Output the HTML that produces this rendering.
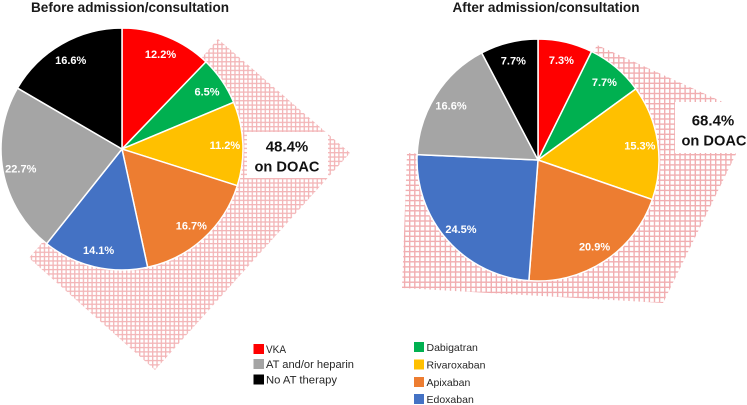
<!DOCTYPE html>
<html lang="en">
<head>
<meta charset="utf-8">
<title>Anticoagulant therapy before and after admission</title>
<style>
html,body{margin:0;padding:0;background:#fff;width:747px;height:405px;overflow:hidden}
svg{display:block;font-family:"Liberation Sans",Arial,sans-serif;filter:blur(0.35px)}
</style>
</head>
<body>
<svg id="chart" width="747" height="405" viewBox="0 0 747 405" xmlns="http://www.w3.org/2000/svg">
  <defs>
    <pattern id="hatch-left" width="4.33" height="4.33" patternUnits="userSpaceOnUse" x="0.5" y="0.5">
      <rect width="4.33" height="4.33" fill="#fff"/>
      <rect width="1.3" height="4.33" fill="#f3b5b7"/>
      <rect width="4.33" height="1.3" fill="#f3b5b7"/>
    </pattern>
    <pattern id="hatch-right" width="5.1" height="5.1" patternUnits="userSpaceOnUse" x="1" y="1">
      <rect width="5.1" height="5.1" fill="#fff"/>
      <rect width="1.4" height="5.1" fill="#f1aeb1"/>
      <rect width="5.1" height="1.4" fill="#f1aeb1"/>
    </pattern>
  </defs>

  <polygon points="218,39 350,153 155,370 29,258 122,149" fill="url(#hatch-left)"/>
  <polygon points="597,45 725,103 736,154 663,303 402,288 407,153 538,160" fill="url(#hatch-right)"/>

  <rect x="247" y="132" width="81" height="46" fill="#fff"/>
  <rect x="675" y="102" width="72" height="51" fill="#fff"/>

  <g id="pie-before"></g>
  <g id="pie-after"></g>

  <text x="130" y="12" text-anchor="middle" font-size="13.5" font-weight="700" fill="#1a1a1a" textLength="198" lengthAdjust="spacingAndGlyphs">Before admission/consultation</text>
  <text x="546" y="12" text-anchor="middle" font-size="13.5" font-weight="700" fill="#1a1a1a" textLength="187" lengthAdjust="spacingAndGlyphs">After admission/consultation</text>

  <text x="287" y="151.5" text-anchor="middle" font-size="15" font-weight="700" fill="#111">48.4%</text>
  <text x="287" y="171.5" text-anchor="middle" font-size="15" font-weight="700" fill="#111" textLength="65" lengthAdjust="spacingAndGlyphs">on DOAC</text>
  <text x="713" y="125.5" text-anchor="middle" font-size="15" font-weight="700" fill="#111">68.4%</text>
  <text x="714" y="145.5" text-anchor="middle" font-size="15" font-weight="700" fill="#111" textLength="65" lengthAdjust="spacingAndGlyphs">on DOAC</text>

  <g>
    <g>
      <rect x="253.5" y="344" width="10.5" height="10" fill="#ff0000"/>
      <text x="266" y="353" font-size="11" fill="#262626" textLength="20" lengthAdjust="spacingAndGlyphs">VKA</text>
    </g>
    <g>
      <rect x="253.5" y="359" width="10.5" height="10" fill="#a5a5a5"/>
      <text x="266" y="368" font-size="11" fill="#262626" textLength="88" lengthAdjust="spacingAndGlyphs">AT and/or heparin</text>
    </g>
    <g>
      <rect x="253.5" y="374.5" width="10.5" height="10" fill="#000000"/>
      <text x="266" y="383.5" font-size="11" fill="#262626" textLength="71" lengthAdjust="spacingAndGlyphs">No AT therapy</text>
    </g>
  </g>

  <g>
    <g>
      <rect x="414" y="342" width="10" height="10" fill="#00b050"/>
      <text x="426.5" y="351" font-size="10.5" fill="#262626">Dabigatran</text>
    </g>
    <g>
      <rect x="414" y="359.5" width="10" height="10" fill="#ffc000"/>
      <text x="426.5" y="368.5" font-size="10.5" fill="#262626">Rivaroxaban</text>
    </g>
    <g>
      <rect x="414" y="377" width="10" height="10" fill="#ed7d31"/>
      <text x="426.5" y="386" font-size="10.5" fill="#262626">Apixaban</text>
    </g>
    <g>
      <rect x="414" y="394" width="10" height="10" fill="#4472c4"/>
      <text x="426.5" y="403" font-size="10.5" fill="#262626">Edoxaban</text>
    </g>
  </g>
</svg>
<script>
const categories = ['vka', 'dabigatran', 'rivaroxaban', 'apixaban', 'edoxaban', 'at-heparin', 'no-at-therapy'];
const valuesBefore = [12.2, 6.5, 11.2, 16.7, 14.1, 22.7, 16.6];
const valuesAfter = [7.3, 7.7, 15.3, 20.9, 24.5, 16.6, 7.7];
const sliceColors = ['#ff0000', '#00b050', '#ffc000', '#ed7d31', '#4472c4', '#a5a5a5', '#000000'];

const SVG_NS = 'http://www.w3.org/2000/svg';

function angleOf(cumulative, total) {
  return (cumulative / total) * 2 * Math.PI;
}

function polar(cx, cy, r, angle) {
  return [cx + r * Math.sin(angle), cy - r * Math.cos(angle)];
}

function drawPie(groupId, prefix, values, cx, cy, radius, labelRadius) {
  const group = document.getElementById(groupId);
  const total = values.reduce(function (a, b) { return a + b; }, 0);
  let running = 0;
  values.forEach(function (value, i) {
    const a0 = angleOf(running, total);
    const a1 = angleOf(running + value, total);
    const p0 = polar(cx, cy, radius, a0);
    const p1 = polar(cx, cy, radius, a1);
    const large = a1 - a0 > Math.PI ? 1 : 0;
    const slice = document.createElementNS(SVG_NS, 'path');
    slice.setAttribute('d', 'M' + cx + ' ' + cy + 'L' + p0[0] + ' ' + p0[1] + 'A' + radius + ' ' + radius + ' 0 ' + large + ' 1 ' + p1[0] + ' ' + p1[1] + 'Z');
    slice.setAttribute('fill', sliceColors[i]);
    slice.setAttribute('stroke', '#fff');
    slice.setAttribute('stroke-width', '1.5');
    slice.setAttribute('stroke-linejoin', 'round');
    
    
    group.appendChild(slice);
    running += value;
  });
  running = 0;
  values.forEach(function (value, i) {
    const mid = angleOf(running + value / 2, total);
    const pos = polar(cx, cy, labelRadius, mid);
    const label = document.createElementNS(SVG_NS, 'text');
    label.setAttribute('x', pos[0]);
    label.setAttribute('y', pos[1] + 4.5);
    label.setAttribute('text-anchor', 'middle');
    label.setAttribute('font-size', '11');
    label.setAttribute('font-weight', '700');
    label.setAttribute('fill', '#fff');
    
    
    label.textContent = value.toFixed(1) + '%';
    group.appendChild(label);
    running += value;
  });
}

drawPie('pie-before', 'before', valuesBefore, 122, 149, 121, 103);
drawPie('pie-after', 'after', valuesAfter, 538, 160, 121, 103);
</script>
</body>
</html>
